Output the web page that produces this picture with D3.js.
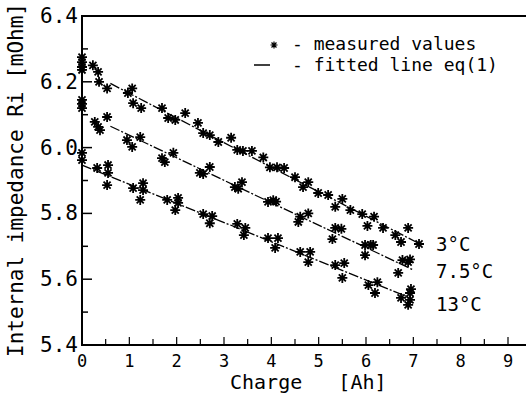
<!DOCTYPE html>
<html><head><meta charset="utf-8">
<script src="https://cdn.jsdelivr.net/npm/d3@7/dist/d3.min.js"></script>
<style>
html,body{margin:0;padding:0;background:#fff;}
svg{display:block;}
text{font-family:"DejaVu Sans Mono",monospace;fill:#000;}
</style></head>
<body>
<svg id="chart" width="526" height="402"></svg>
<script>
// ---- data ----
const xTicks = [0,1,2,3,4,5,6,7,8,9];
const yTicks = [5.4,5.6,5.8,6.0,6.2,6.4];
const yTickLabels = ["5.4","5.6","5.8","6.0","6.2","6.4"];
const seriesNames = ["3°C","7.5°C","13°C"];

const charge3 = [0,0,0,0,0.23,0.34,0.36,0.53,0.97,1.06,1.08,1.25,1.69,1.82,1.97,2.18,2.45,2.56,2.7,2.88,3.15,3.28,3.4,3.59,3.83,3.97,4.12,4.27,4.5,4.67,4.78,4.99,5.2,5.35,5.5,5.67,5.92,6.03,6.17,6.36,6.62,6.74,6.89,7.12];
const ri3     = [6.275,6.26,6.245,6.236,6.25,6.23,6.20,6.18,6.166,6.18,6.135,6.12,6.12,6.09,6.084,6.105,6.075,6.044,6.038,6.017,6.03,5.993,5.99,5.99,5.97,5.94,5.94,5.938,5.91,5.88,5.895,5.862,5.856,5.82,5.844,5.81,5.798,5.762,5.79,5.756,5.734,5.713,5.756,5.707];

const charge75 = [0,0,0,0.27,0.34,0.38,0.53,0.95,1.06,1.23,1.69,1.75,1.93,2.49,2.56,2.7,3.23,3.3,3.38,3.93,4.04,4.1,4.57,4.61,4.78,5.29,5.35,5.48,5.98,5.98,6.1,6.15,6.68,6.77,6.89,6.93];
const ri75     = [6.145,6.133,6.12,6.078,6.063,6.053,6.093,6.023,6.002,6.032,5.968,5.956,5.984,5.923,5.92,5.941,5.88,5.875,5.895,5.835,5.84,5.836,5.774,5.79,5.8,5.722,5.756,5.753,5.704,5.673,5.704,5.704,5.619,5.658,5.652,5.66];

const charge13 = [0,0,0.32,0.55,0.55,0.53,1.08,1.29,1.29,1.23,1.8,2.03,2.03,1.97,2.56,2.75,2.7,3.28,3.45,3.42,3.93,4.14,4.08,4.61,4.82,4.78,5.35,5.54,5.5,6.05,6.24,6.19,6.74,6.93,6.93,6.89,6.95];
const ri13     = [5.984,5.962,5.938,5.947,5.923,5.886,5.877,5.892,5.871,5.841,5.841,5.847,5.832,5.81,5.798,5.792,5.77,5.768,5.756,5.734,5.725,5.725,5.695,5.683,5.683,5.652,5.643,5.649,5.604,5.582,5.591,5.558,5.543,5.558,5.537,5.522,5.57];

const fitCharge3 = [0.6,2,4,7.1];
const fitRi3     = [6.195,6.09,5.94,5.71];
const fitCharge75 = [0.6,3.3,7.0];
const fitRi75     = [6.065,5.88,5.628];
const fitCharge13 = [0,3.3,6.93];
const fitRi13     = [5.947,5.755,5.543];

// ---- scales ----
const svg = d3.select("#chart");
const x = d3.scaleLinear().domain([0,9]).range([82,508]);
const y = d3.scaleLinear().domain([5.4,6.4]).range([345,16]);
const xEnd = 526;

// frame lines
svg.append("line").attr("x1",x(0)).attr("x2",xEnd).attr("y1",y(6.4)).attr("y2",y(6.4)).attr("stroke","#000").attr("stroke-width",2);
svg.append("line").attr("x1",x(0)).attr("x2",xEnd).attr("y1",y(5.4)).attr("y2",y(5.4)).attr("stroke","#000").attr("stroke-width",2);
svg.append("line").attr("x1",x(0)).attr("x2",x(0)).attr("y1",y(6.4)-1).attr("y2",y(5.4)+1).attr("stroke","#000").attr("stroke-width",2);

// x ticks (inward) every 0.5
const xMinor = d3.range(0.5, 9.5, 0.5);
svg.append("g").selectAll("line").data(xMinor).join("line")
  .attr("x1",d=>x(d)).attr("x2",d=>x(d))
  .attr("y1",y(5.4)).attr("y2",d=>y(5.4)-(Number.isInteger(d)?8:6))
  .attr("stroke","#000").attr("stroke-width",1.2);
// y ticks (inward) every 0.1
const yMinor = d3.range(5.5, 6.4, 0.1);
svg.append("g").selectAll("line").data(yMinor).join("line")
  .attr("x1",x(0)).attr("x2",d=>x(0)+ (Math.round(d*10)%2===0?10:6))
  .attr("y1",d=>y(d)).attr("y2",d=>y(d))
  .attr("stroke","#000").attr("stroke-width",1.5);

// tick labels
svg.append("g").selectAll("text").data(xTicks).join("text")
  .attr("x",d=>x(d)).attr("y",367).attr("text-anchor","middle")
  .attr("font-size",17).text(d=>String(d));
svg.append("g").selectAll("text").data(yTicks).join("text")
  .attr("x",78).attr("y",d=>y(d)+7).attr("text-anchor","end")
  .attr("font-size",21).text((d,i)=>yTickLabels[i]);

// axis titles
svg.append("text").attr("x",230).attr("y",389).attr("font-size",20)
  .attr("xml:space","preserve").text("Charge   [Ah]");
svg.append("text").attr("transform","translate(23,180) rotate(-90)")
  .attr("text-anchor","middle").attr("font-size",21)
  .text("Internal impedance Ri [mOhm]");

// fitted lines
const lineGen = d3.line().x(d=>x(d[0])).y(d=>y(d[1]));
const fits = [[fitCharge3,fitRi3],[fitCharge75,fitRi75],[fitCharge13,fitRi13]];
fits.forEach(([cx,ry])=>{
  svg.append("path").datum(cx.map((c,i)=>[c,ry[i]]))
    .attr("d",lineGen).attr("fill","none").attr("stroke","#000")
    .attr("stroke-width",1.3).attr("stroke-dasharray","10,2,2,2");
});

// asterisk markers
function star(g, px, py, r, sw){
  const p = d3.path();
  for(let k=0;k<4;k++){
    const a = k*Math.PI/4 + Math.PI/2;
    const dx = Math.cos(a)*r, dy = Math.sin(a)*r;
    p.moveTo(px-dx,py-dy); p.lineTo(px+dx,py+dy);
  }
  g.append("path").attr("d",p.toString()).attr("stroke","#000").attr("stroke-width",sw).attr("fill","none");
}
const sets = [[charge3,ri3],[charge75,ri75],[charge13,ri13]];
const gm = svg.append("g");
sets.forEach(([cx,ry])=>{
  cx.forEach((c,i)=>star(gm, x(c), y(ry[i]), 5, 1.8));
});

// series labels
const labelY = [251,278,311];
svg.append("g").selectAll("text").data(seriesNames).join("text")
  .attr("x",436).attr("y",(d,i)=>labelY[i]).attr("font-size",19).text(d=>d);

// legend
star(svg, 274, 45, 3.5, 1.2);
svg.append("text").attr("x",292).attr("y",50).attr("font-size",18)
  .attr("xml:space","preserve").text("- measured values");
svg.append("line").attr("x1",254).attr("x2",270).attr("y1",65).attr("y2",65).attr("stroke","#000").attr("stroke-width",1.5);
svg.append("text").attr("x",292).attr("y",71).attr("font-size",18)
  .attr("xml:space","preserve").text("- fitted line eq(1)");
</script>
</body></html>
